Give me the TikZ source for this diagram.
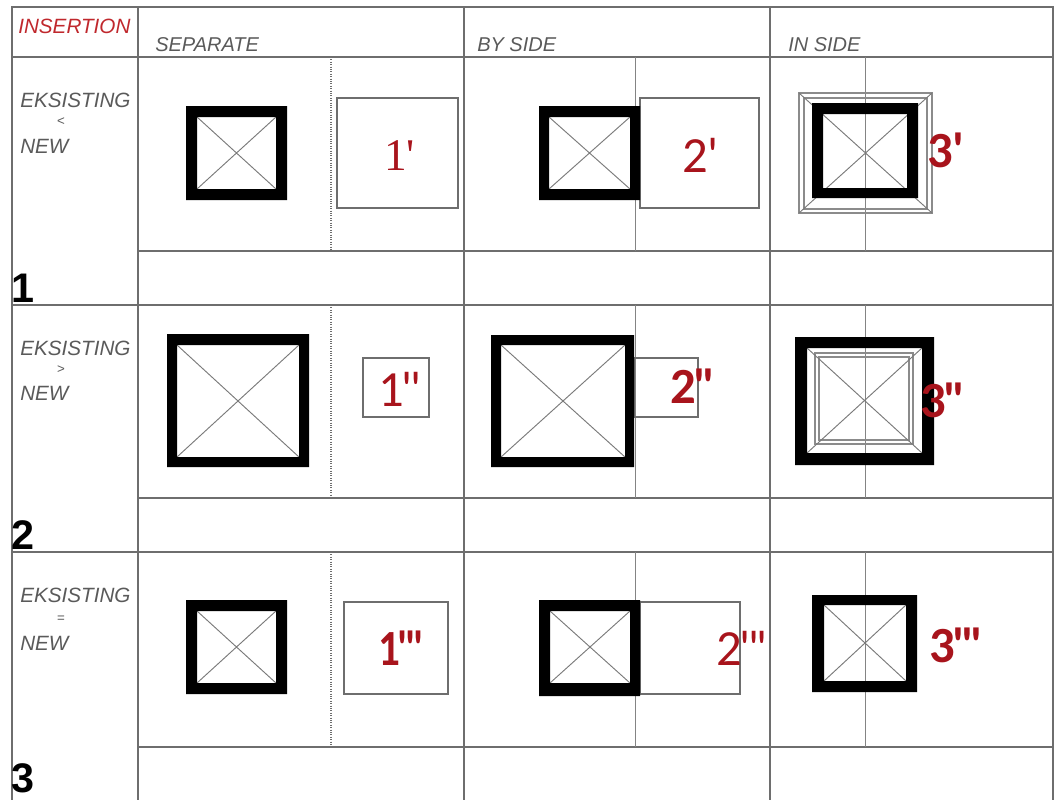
\documentclass[tikz,border=0pt]{standalone}
\usepackage{fontspec}
\setmainfont{Liberation Sans}
\newfontfamily\lblfont[Ligatures=TeXOff]{Carlito}
\newfontfamily\serfont[Ligatures=TeXOff]{Liberation Serif}
\definecolor{gridc}{HTML}{6E6E6E}
\definecolor{txtc}{HTML}{5A5A5A}
\definecolor{redc}{HTML}{A8141C}
\definecolor{hdrred}{HTML}{C0282D}
\definecolor{diagc}{HTML}{7A7A7A}
\newcommand{\thicksq}[8]{%
  \draw[diag] (#5,#6) -- (#7,#8) (#5,#8) -- (#7,#6);
  \fill[black, even odd rule] (#1,#2) rectangle (#3,#4) (#5,#6) rectangle (#7,#8);
}
\newcommand{\pk}{\kern-0.05em}
\begin{document}
\begin{tikzpicture}[x=0.75pt,y=-0.75pt,
  gridline/.style={draw=gridc, line width=1.1pt},
  sepline/.style={draw=gridc, line width=0.8pt, densely dotted},
  thinv/.style={draw=gridc!85, line width=0.6pt},
  newbox/.style={draw=gridc, line width=1.1pt},
  dblbox/.style={draw=gridc!80, line width=0.8pt},
  diag/.style={draw=diagc, line width=0.7pt},
  hdr/.style={font=\fontsize{15pt}{18pt}\selectfont\itshape, text=txtc, anchor=base west, inner sep=0},
  side/.style={font=\fontsize{15.5pt}{18pt}\selectfont\itshape, text=txtc, anchor=base west, inner sep=0},
  rel/.style={font=\fontsize{10pt}{12pt}\selectfont, text=txtc, inner sep=0},
  rownum/.style={font=\fontsize{31pt}{34pt}\selectfont\bfseries, text=black, anchor=base west, inner sep=0},
  lbl/.style={font=\fontsize{38pt}{40pt}\lblfont, text=redc, anchor=base west, inner sep=0},
  lblb/.style={font=\fontsize{38pt}{40pt}\lblfont\bfseries, text=redc, anchor=base west, inner sep=0},
  lbls/.style={font=\fontsize{34pt}{36pt}\serfont, text=redc, anchor=base west, inner sep=0}
]
\useasboundingbox (0,0) rectangle (1058,800);
\fill[white] (0,0) rectangle (1058,800);

% ---- grid ----
\draw[gridline] (12,800) -- (12,7) -- (1053,7) -- (1053,800);
\draw[gridline] (12,57) -- (1053,57);
\draw[gridline] (12,305) -- (1053,305);
\draw[gridline] (12,552) -- (1053,552);
\foreach \x in {138,464,770} \draw[gridline] (\x,7) -- (\x,800);
\foreach \y in {251,498,747} \draw[gridline] (138,\y) -- (1053,\y);
\foreach \a/\b in {57/251,305/498,552/747}{
  \draw[sepline] (331,\a) -- (331,\b);
  \draw[thinv] (635,\a) -- (635,\b);
  \draw[thinv] (865,\a) -- (865,\b);
}

% ---- headers ----
\node[hdr, text=hdrred, font=\fontsize{15.5pt}{18pt}\selectfont\itshape] (hins) at (18,33) {INSERTION};
\node[hdr] (hsep) at (155,51) {SEPARATE};
\node[hdr] (hby) at (477,51) {BY SIDE};
\node[hdr] (hin) at (788,51) {IN SIDE};

% ---- side labels ----
\node[side] (e1) at (20,107) {EKSISTING};
\node[rel] (r1) at (61,122) {<};
\node[side] (n1) at (20,153) {NEW};
\node[side] (e2) at (20,355) {EKSISTING};
\node[rel] (r2) at (61,370) {>};
\node[side] (n2) at (20,400) {NEW};
\node[side] (e3) at (20,602) {EKSISTING};
\node[rel] (r3) at (61,619) {=};
\node[side] (n3) at (20,650) {NEW};

\node[rownum] (num1) at (11,302) {1};
\node[rownum] (num2) at (11,549) {2};
\node[rownum] (num3) at (11,792) {3};

% ---- row 1 ----
\thicksq{186}{106}{287}{200}{197}{117}{276}{189}
\draw[newbox] (337,98) rectangle (458,208);
\node[lbls] (l11) at (384,170) {1'};

\draw[newbox] (640,98) rectangle (759,208);
\thicksq{539}{106}{640}{200}{549}{117}{630}{189}
\node[lbl] (l12) at (682,172) {2'};

\draw[dblbox] (799,93) rectangle (932,213);
\draw[dblbox] (804,98) rectangle (927,209);
\draw[diag] (799,93) -- (932,213) (799,213) -- (932,93);
\fill[black, even odd rule] (812,103) rectangle (918,198) (823,114) rectangle (907,188);
\node[lblb] (l13) at (927,167) {3'};

% ---- row 2 ----
\thicksq{167}{334}{309}{467}{177}{345}{299}{457}
\draw[newbox] (363,358) rectangle (429,417);
\node[lbl] (l21) at (378,406) {1\pk'\pk'};

\draw[newbox] (634,358) rectangle (698,417);
\thicksq{491}{335}{634}{467}{501}{345}{625}{457}
\node[lblb] (l22) at (670,403) {2\pk'\pk'};

\draw[dblbox] (815,353) rectangle (913,444);
\draw[dblbox] (819,357) rectangle (909,440);
\thicksq{795}{337}{934}{465}{807}{348}{922}{453}
\node[lblb] (l23) at (920,417) {3\pk'\pk'};

% ---- row 3 ----
\thicksq{186}{600}{287}{694}{197}{611}{276}{683}
\draw[newbox] (344,602) rectangle (448,694);
\node[lblb] (l31) at (378,665) {\scalebox{0.85}[1]{1\pk'\pk'\pk'}};

\draw[newbox] (640,602) rectangle (740,694);
\thicksq{539}{600}{640}{696}{550}{611}{630}{683}
\node[lbl] (l32) at (716,665) {2\pk'\pk'\pk'};

\thicksq{812}{595}{917}{692}{824}{605}{906}{681}
\node[lblb] (l33) at (929,662) {3\pk'\pk'\pk'};
\end{tikzpicture}
\end{document}
